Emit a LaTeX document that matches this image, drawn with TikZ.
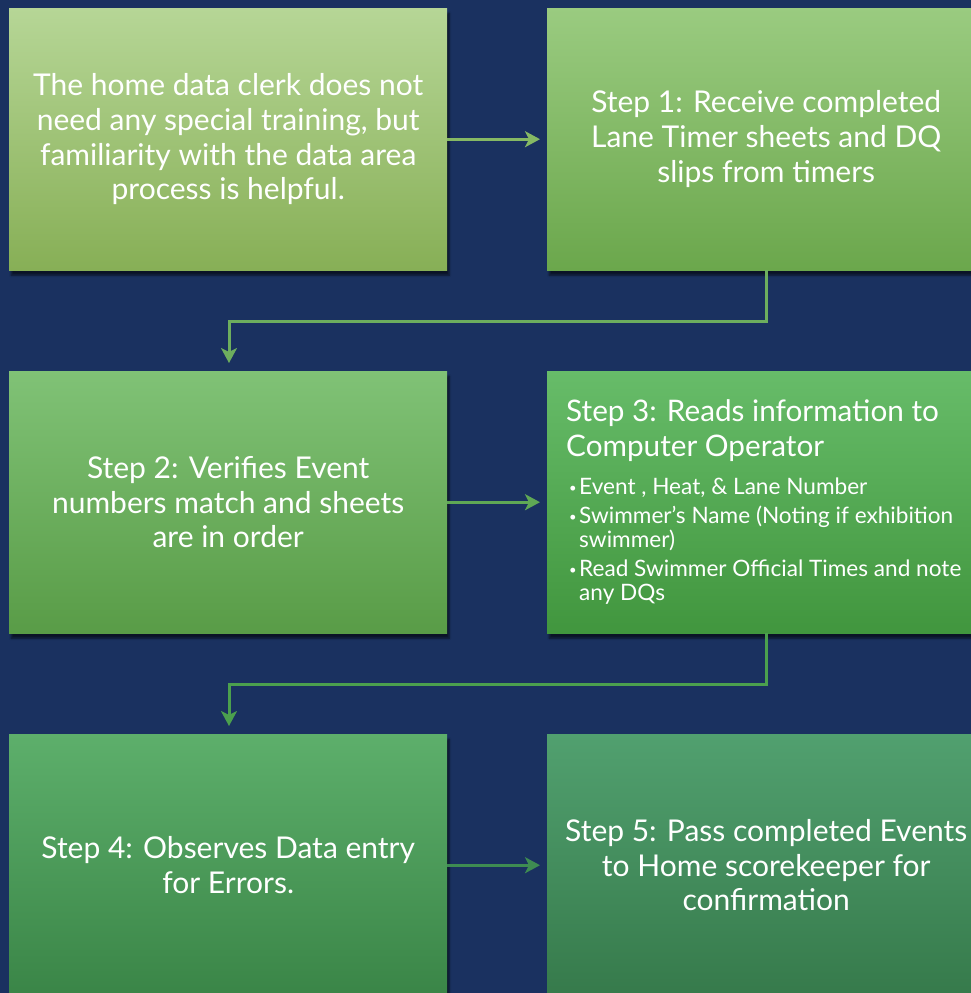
\documentclass[tikz,border=0pt]{standalone}
\usepackage{fontspec}
\setmainfont{Lato}
\usetikzlibrary{arrows.meta,shadows.blur}
\definecolor{navy}{HTML}{1A3160}
\definecolor{gA}{HTML}{B6D696}\definecolor{gAb}{HTML}{87AF56}
\definecolor{gB}{HTML}{9ACB80}\definecolor{gBb}{HTML}{6BA74C}
\definecolor{gC}{HTML}{80C276}\definecolor{gCb}{HTML}{599C47}
\definecolor{gD}{HTML}{67BC69}\definecolor{gDb}{HTML}{41963E}
\definecolor{gE}{HTML}{5DAF6B}\definecolor{gEb}{HTML}{3A8547}
\definecolor{gF}{HTML}{51A06F}\definecolor{gFb}{HTML}{367A4B}
\definecolor{lnA}{HTML}{86B964}
\definecolor{lnB}{HTML}{6DAE5E}
\definecolor{lnC}{HTML}{5FA855}
\definecolor{lnD}{HTML}{4BA04E}
\definecolor{lnE}{HTML}{3E8C52}
\newcommand{\blt}{\hangindent=13pt\hangafter=1\hspace*{3pt}\makebox[10pt][l]{\fontsize{13}{13}\selectfont\raisebox{2pt}{•}}}
\tikzset{
  box/.style={anchor=north west,minimum width=438,minimum height=262,inner sep=0,
    text=white,align=center,font=\fontsize{30}{34.7}\selectfont,
    blur shadow={shadow xshift=2pt,shadow yshift=-5pt,shadow blur steps=6,shadow opacity=60}},
  link/.style={line width=3pt,-{Stealth[length=15pt,width=16pt,inset=4pt]}}
}
\begin{document}
\begin{tikzpicture}[x=1pt,y=-1pt]
  \clip (0,0) rectangle (971,993);
  \fill[navy] (0,0) rectangle (971,993);
  % boxes
  \node[box,top color=gA,bottom color=gAb] (clerk) at (9,8)
    {The home data clerk does not\\need any special training, but\\familiarity with the data area\\process is helpful.};
  \node[box,top color=gB,bottom color=gBb] (s1) at (547,8)
    {Step 1: Receive completed\\Lane Timer sheets and DQ\\slips from timers};
  \node[box,top color=gC,bottom color=gCb] (s2) at (9,371)
    {Step 2: Verifies Event\\numbers match and sheets\\are in order};
  \node[box,top color=gD,bottom color=gDb] (s3) at (547,371)
    {\parbox{400pt}{\raggedright\fontsize{29.7}{35}\selectfont Step 3: Reads information to\newline Computer Operator\par
      \vspace{14pt}\fontsize{22.6}{24}\selectfont
      \blt Event , Heat, \& Lane Number\par
      \vspace{5pt}\blt Swimmer’s Name (Noting if exhibition\newline swimmer)\par
      \vspace{5pt}\blt Read Swimmer Official Times and note\newline any DQs\par}};
  \node[box,top color=gE,bottom color=gEb] (s4) at (9,734)
    {Step 4: Observes Data entry\\for Errors.};
  \node[box,top color=gF,bottom color=gFb] (s5) at (547,734)
    {Step 5: Pass completed Events\\to Home scorekeeper for\\confirmation};
  % connectors
  \draw[link,lnA,shorten >=7pt] (clerk.east) -- (s1.west);
  \draw[link,lnB,shorten >=8pt] (s1.south) |- (229,321) -- (s2.north -| 229,0);
  \draw[link,lnC,shorten >=7pt] (s2.east) -- (s3.west);
  \draw[link,lnD,shorten >=8pt] (s3.south) |- (229,684) -- (s4.north -| 229,0);
  \draw[link,lnE,shorten >=7pt] (s4.east) -- (s5.west);
\end{tikzpicture}
\end{document}
